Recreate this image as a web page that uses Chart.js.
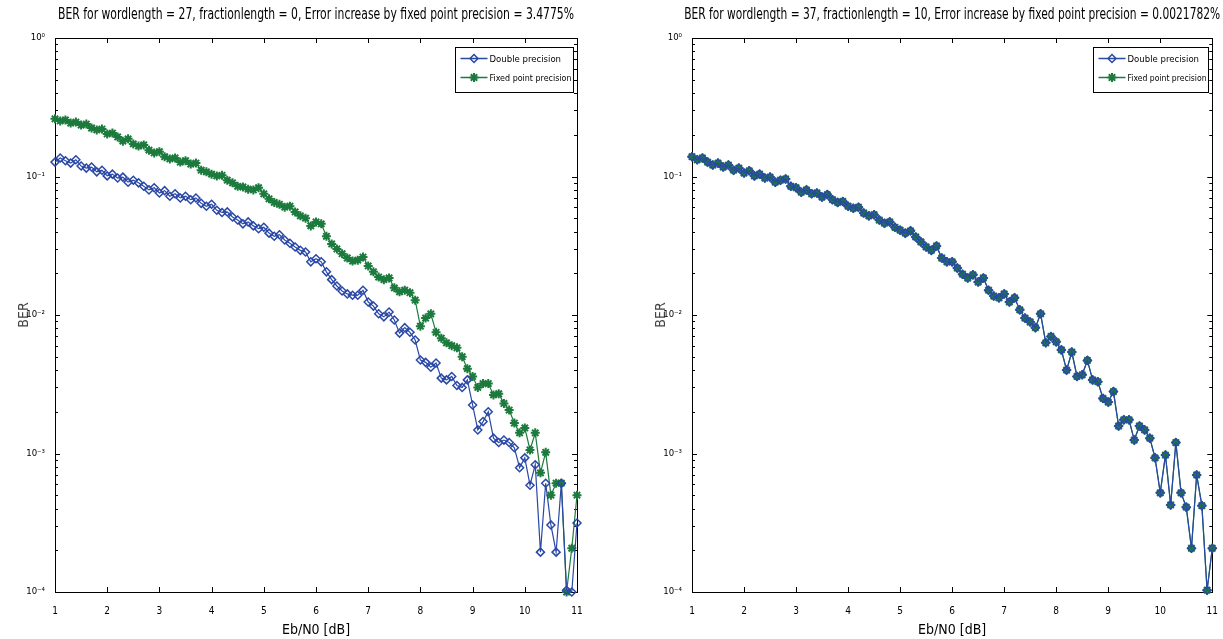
<!DOCTYPE html>
<html>
<head>
<meta charset="utf-8">
<script src="https://cdn.jsdelivr.net/npm/chart.js@4.4.0/dist/chart.umd.min.js"></script>
<style>
html, body { margin: 0; padding: 0; background: #fff; overflow: hidden; }
#left { position: absolute; left: 0; top: 0; }
#right { position: absolute; left: 611px; top: 0; }
</style>
</head>
<body>
<canvas id="left" width="611" height="639"></canvas>
<canvas id="right" width="612" height="639"></canvas>
<script>
// Eb/N0 grid, dB
var ebN0 = [1.0,1.1,1.2,1.3,1.4,1.5,1.6,1.7,1.8,1.9,
  2.0,2.1,2.2,2.3,2.4,2.5,2.6,2.7,2.8,2.9,
  3.0,3.1,3.2,3.3,3.4,3.5,3.6,3.7,3.8,3.9,
  4.0,4.1,4.2,4.3,4.4,4.5,4.6,4.7,4.8,4.9,
  5.0,5.1,5.2,5.3,5.4,5.5,5.6,5.7,5.8,5.9,
  6.0,6.1,6.2,6.3,6.4,6.5,6.6,6.7,6.8,6.9,
  7.0,7.1,7.2,7.3,7.4,7.5,7.6,7.7,7.8,7.9,
  8.0,8.1,8.2,8.3,8.4,8.5,8.6,8.7,8.8,8.9,
  9.0,9.1,9.2,9.3,9.4,9.5,9.6,9.7,9.8,9.9,
  10.0,10.1,10.2,10.3,10.4,10.5,10.6,10.7,10.8,10.9,
  11.0];

// wordlength 27, fractionlength 0
var leftDouble = [0.127,0.136,0.130,0.125,0.132,0.119,0.115,0.117,0.108,0.111,
  0.101,0.104,0.0975,0.099,0.091,0.094,0.090,0.085,0.080,0.083,
  0.076,0.079,0.072,0.075,0.070,0.072,0.068,0.070,0.064,0.061,
  0.063,0.057,0.055,0.0555,0.051,0.0485,0.0455,0.047,0.044,0.042,
  0.043,0.039,0.037,0.038,0.0348,0.033,0.031,0.0293,0.0285,0.0242,
  0.0255,0.0242,0.0205,0.0180,0.0162,0.0149,0.0142,0.0139,0.0139,0.0151,
  0.0124,0.0116,0.0102,0.0097,0.0105,0.0092,0.0074,0.0081,0.0075,0.0066,
  0.00473,0.00455,0.0042,0.0045,0.0035,0.0034,0.0036,0.0031,0.0030,0.0034,
  0.00224,0.00148,0.0017,0.0020,0.00129,0.0012,0.00125,0.0012,0.0011,0.00079,
  0.00093,0.00059,0.00083,0.000194,0.00061,0.000305,0.000194,0.00061,0.000103,0.0001,
  0.000315];
var leftFixed = [0.261,0.252,0.256,0.243,0.247,0.235,0.239,0.224,0.217,0.220,
  0.203,0.206,0.193,0.180,0.187,0.172,0.166,0.169,0.155,0.148,
  0.151,0.139,0.134,0.136,0.127,0.130,0.123,0.125,0.111,0.108,
  0.104,0.101,0.102,0.094,0.090,0.085,0.084,0.081,0.080,0.083,
  0.075,0.069,0.065,0.063,0.060,0.061,0.0555,0.052,0.050,0.044,
  0.047,0.0455,0.037,0.0326,0.030,0.0277,0.0258,0.0245,0.0249,0.0262,
  0.0226,0.0205,0.0188,0.0180,0.0185,0.0157,0.0147,0.0151,0.0145,0.0128,
  0.0083,0.0095,0.0102,0.0075,0.0068,0.0063,0.0060,0.0058,0.0050,0.0041,
  0.0036,0.0030,0.0032,0.0032,0.00265,0.0027,0.0023,0.00206,0.00166,0.00141,
  0.00153,0.00106,0.00141,0.000725,0.00102,0.0005,0.00061,0.00061,0.0001,0.000207,
  0.0005];

// wordlength 37, fractionlength 10 (both curves coincide)
var rightFixed = [0.139,0.132,0.136,0.127,0.121,0.125,0.117,0.121,0.111,0.115,
  0.106,0.110,0.101,0.104,0.0975,0.099,0.091,0.094,0.096,0.085,
  0.083,0.077,0.080,0.075,0.076,0.071,0.074,0.068,0.065,0.066,
  0.061,0.059,0.060,0.0545,0.052,0.053,0.0485,0.046,0.047,0.043,
  0.041,0.039,0.0405,0.0366,0.0337,0.031,0.0293,0.0315,0.0258,0.0242,
  0.0242,0.0218,0.0197,0.0185,0.0195,0.0173,0.0185,0.0151,0.0137,0.0133,
  0.0142,0.0124,0.0133,0.0109,0.0095,0.0089,0.0081,0.0102,0.0063,0.0070,
  0.0064,0.0056,0.0040,0.0054,0.0036,0.0037,0.0047,0.0034,0.0033,0.0025,
  0.00235,0.0028,0.00158,0.00175,0.00175,0.00125,0.00158,0.00148,0.00129,0.00093,
  0.00052,0.000975,0.000425,0.0012,0.00052,0.00041,0.000207,0.0007,0.00042,0.000103,
  0.000207];
var rightDouble = rightFixed.slice();

var xTicks = [1,2,3,4,5,6,7,8,9,10,11];
var yTickLabels = ['10\u207B\u2074','10\u207B\u00B3','10\u207B\u00B2','10\u207B\u00B9','10\u2070'];
var seriesNames = ['Double precision', 'Fixed point precision'];

var FONT = "'Liberation Sans Narrow', 'DejaVu Sans Condensed', 'Liberation Sans', Arial, sans-serif";
var BLUE = '#2a48a6';
var GREEN = '#1b7a3c';

function points(vals) {
  return ebN0.map(function (x, i) { return { x: x, y: vals[i] }; });
}

// box, inward ticks, title and legend drawn the MATLAB way
var matlabFrame = {
  id: 'matlabFrame',
  beforeDatasetsDraw: function (chart) {
    var ctx = chart.ctx, a = chart.chartArea;
    var sx = chart.scales.x, sy = chart.scales.y;
    ctx.save();
    ctx.strokeStyle = '#000';
    ctx.lineWidth = 1;
    ctx.strokeRect(Math.round(a.left) + 0.5, Math.round(a.top) + 0.5,
      Math.round(a.right - a.left), Math.round(a.bottom - a.top));
    ctx.beginPath();
    xTicks.forEach(function (v) {
      var px = Math.round(sx.getPixelForValue(v)) + 0.5;
      ctx.moveTo(px, a.bottom); ctx.lineTo(px, a.bottom - 5);
      ctx.moveTo(px, a.top); ctx.lineTo(px, a.top + 5);
    });
    for (var e = -4; e <= 0; e++) {
      for (var m = 1; m <= 9; m++) {
        if (e === 0 && m > 1) break;
        var py = Math.round(sy.getPixelForValue(m * Math.pow(10, e))) + 0.5;
        var len = m === 1 ? 5 : 3;
        ctx.moveTo(a.left, py); ctx.lineTo(a.left + len, py);
        ctx.moveTo(a.right, py); ctx.lineTo(a.right - len, py);
      }
    }
    ctx.stroke();
    ctx.restore();
  },
  afterDraw: function (chart, args, opts) {
    var ctx = chart.ctx, a = chart.chartArea;
    ctx.save();
    // title
    ctx.fillStyle = '#000';
    ctx.font = '15px ' + FONT;
    ctx.textAlign = 'center';
    ctx.textBaseline = 'middle';
    ctx.fillText(opts.title, (a.left + a.right) / 2, 15, opts.titleWidth);

    // legend
    var w = opts.legendWidth, h = 45;
    var bx = Math.round(a.right - 4 - w) + 0.5, by = Math.round(a.top + 9) + 0.5;
    ctx.fillStyle = '#fff';
    ctx.fillRect(bx, by, w, h);
    ctx.strokeStyle = '#000';
    ctx.lineWidth = 1;
    ctx.strokeRect(bx, by, w, h);
    ctx.font = '9.5px ' + FONT;
    ctx.textAlign = 'left';
    chart.data.datasets.forEach(function (ds, i) {
      var ly = by + 11 + i * 19;
      ctx.strokeStyle = ds.borderColor;
      ctx.lineWidth = 1.5;
      ctx.beginPath();
      ctx.moveTo(bx + 5, ly); ctx.lineTo(bx + 32, ly);
      ctx.stroke();
      ctx.fillStyle = ds.pointBackgroundColor;
      ctx.strokeStyle = ds.borderColor;
      ctx.lineWidth = ds.pointBorderWidth;
      Chart.helpers.drawPoint(ctx, { pointStyle: ds.pointStyle, radius: ds.pointRadius, rotation: 0, borderWidth: ds.pointBorderWidth }, bx + 18.5, ly);
      ctx.fillStyle = '#000';
      ctx.fillText(ds.label, bx + 34, ly + 1, w - 36);
    });
    ctx.restore();
  }
};

function makeChart(id, dbl, fix, frameOpts, padLeft, padRight) {
  return new Chart(document.getElementById(id), {
    type: 'line',
    data: {
      datasets: [{
        label: seriesNames[0],
        data: points(dbl),
        borderColor: BLUE,
        borderWidth: 1.2,
        pointStyle: 'rectRot',
        pointRadius: 4,
        pointBorderWidth: 1.5,
        pointBackgroundColor: 'rgba(255,255,255,0)',
        pointBorderColor: BLUE,
        tension: 0,
        clip: false
      }, {
        label: seriesNames[1],
        data: points(fix),
        borderColor: GREEN,
        borderWidth: 1.2,
        pointStyle: 'star',
        pointRadius: 4.5,
        pointBorderWidth: 2,
        pointBackgroundColor: GREEN,
        pointBorderColor: GREEN,
        tension: 0,
        clip: false
      }]
    },
    options: {
      responsive: false,
      animation: false,
      layout: { padding: { left: padLeft, right: padRight, top: 38, bottom: 0 } },
      plugins: {
        legend: { display: false },
        tooltip: { enabled: false },
        matlabFrame: frameOpts
      },
      scales: {
        x: {
          type: 'linear',
          min: 1,
          max: 11,
          grid: { display: false },
          border: { display: false },
          ticks: { stepSize: 1, padding: 5, color: '#000', font: { size: 10, family: FONT } },
          title: { display: true, text: 'Eb/N0 [dB]', color: '#000', font: { size: 14, family: FONT }, padding: { top: 0, bottom: 0 } },
          afterFit: function (s) { s.height = 47; }
        },
        y: {
          type: 'logarithmic',
          min: 0.0001,
          max: 1,
          grid: { display: false },
          border: { display: false },
          ticks: {
            autoSkip: false,
            padding: 2,
            color: '#000',
            font: { size: 9.5, family: FONT },
            callback: function (v) {
              var e = Math.log10(v);
              if (Math.abs(e - Math.round(e)) < 1e-9) return yTickLabels[Math.round(e) + 4];
              return '';
            }
          },
          title: { display: true, text: 'BER', color: '#444', font: { size: 14, family: FONT }, padding: { top: 16, bottom: 0 } },
          afterFit: function (s) { s.width = 55; }
        }
      }
    },
    plugins: [matlabFrame]
  });
}

makeChart('left', leftDouble, leftFixed, {
  title: 'BER for wordlength = 27, fractionlength = 0, Error increase by fixed point precision = 3.4775%',
  titleWidth: 516, legendWidth: 118
}, 0, 34);

makeChart('right', rightDouble, rightFixed, {
  title: 'BER for wordlength = 37, fractionlength = 10, Error increase by fixed point precision = 0.0021782%',
  titleWidth: 536, legendWidth: 115
}, 26, 10);
</script>
</body>
</html>
